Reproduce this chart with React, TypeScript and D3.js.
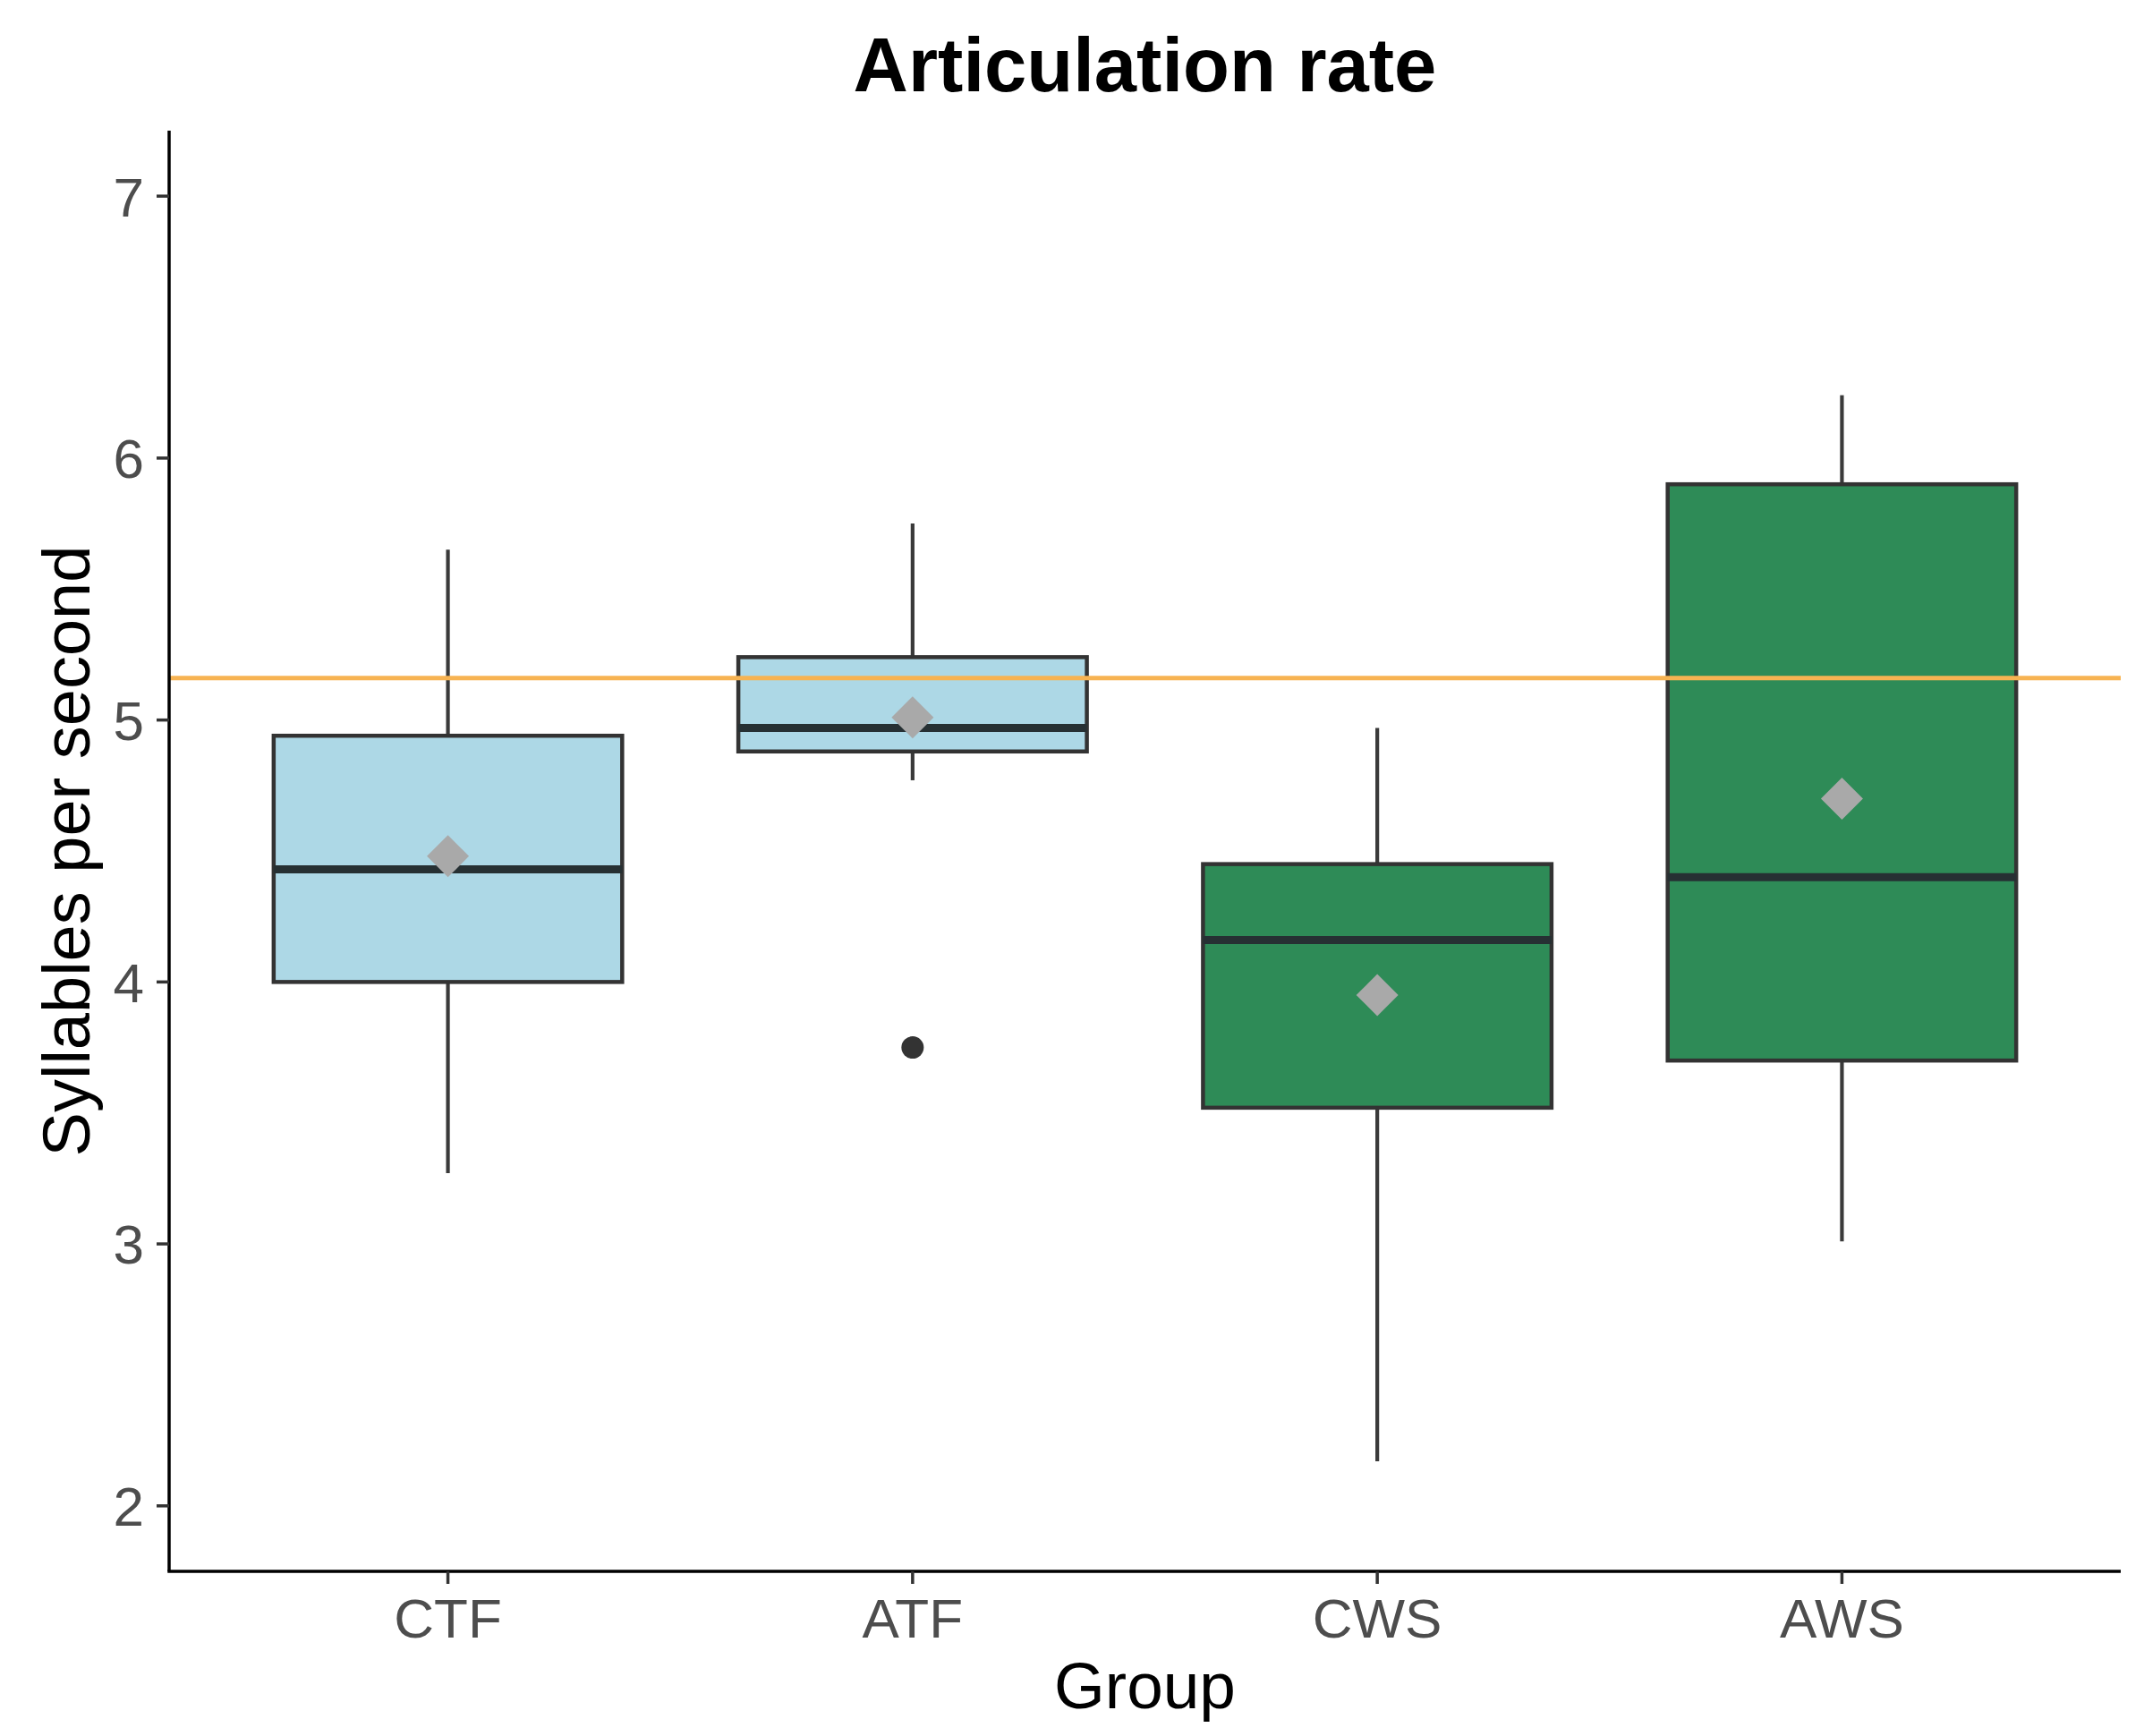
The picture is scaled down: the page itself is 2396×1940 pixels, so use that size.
import React from "react";
import * as d3 from "d3";

const groups = ["CTF", "ATF", "CWS", "AWS"];
const lowerWhisker = [3.27, 4.77, 2.17, 3.01];
const q1 = [4.0, 4.88, 3.52, 3.7];
const median = [4.43, 4.97, 4.16, 4.4];
const q3 = [4.94, 5.24, 4.45, 5.9];
const upperWhisker = [5.65, 5.75, 4.97, 6.24];
const means = [4.48, 5.01, 3.95, 4.7];
const outlierGroups = ["ATF"];
const outlierValues = [3.75];
const fills = ["#ADD8E6", "#ADD8E6", "#2E8B57", "#2E8B57"];
const yTicks = [2, 3, 4, 5, 6, 7];
const refLine = 5.16;

const W = 2396;
const H = 1940;
const left = 189;
const right = 2370;
const top = 146;
const bottom = 1756;
const font = "'Liberation Sans', Arial, Helvetica, sans-serif";

export default function App() {
  const x = d3.scalePoint<string>().domain(groups).range([left, right]).padding(0.6);
  const y = d3.scaleLinear().domain([1.75, 7.25]).range([bottom, top]);
  const bw = x.step() * 0.75;
  const dr = 23.5;
  const diamond = `M0,${-dr}L${dr},0L0,${dr}L${-dr},0Z`;
  const cx = (left + right) / 2;
  const cy = (top + bottom) / 2;

  return (
    <div style={{ position: "absolute", left: 0, top: 0, width: W, height: H, background: "#fff" }}>
      <svg width={W} height={H} style={{ display: "block" }} fontFamily={font}>
        <rect x={0} y={0} width={W} height={H} fill="#fff" />
        {groups.map((g, i) => {
          const xc = x(g)!;
          return (
            <g key={g}>
              <line x1={xc} x2={xc} y1={y(upperWhisker[i])} y2={y(q3[i])} stroke="#3a3a3a" strokeWidth={4.2} />
              <line x1={xc} x2={xc} y1={y(q1[i])} y2={y(lowerWhisker[i])} stroke="#3a3a3a" strokeWidth={4.2} />
              <rect
                x={xc - bw / 2}
                y={y(q3[i])}
                width={bw}
                height={y(q1[i]) - y(q3[i])}
                fill={fills[i]}
                stroke="#333"
                strokeWidth={4.5}
              />
              <line x1={xc - bw / 2} x2={xc + bw / 2} y1={y(median[i])} y2={y(median[i])} stroke="#263033" strokeWidth={9} />
            </g>
          );
        })}
        {outlierGroups.map((g, i) => (
          <circle key={"o" + i} cx={x(g)!} cy={y(outlierValues[i])} r={12.5} fill="#333" />
        ))}
        <line x1={left} x2={right} y1={y(refLine)} y2={y(refLine)} stroke="#F7B352" strokeWidth={5} />
        {groups.map((g, i) => (
          <path key={"m" + g} d={diamond} transform={`translate(${x(g)},${y(means[i])})`} fill="#A9A9A9" />
        ))}
        {/* axes */}
        <line x1={left} x2={left} y1={top} y2={bottom} stroke="#000" strokeWidth={3.5} />
        <line x1={left - 1.75} x2={right} y1={bottom} y2={bottom} stroke="#000" strokeWidth={3.5} />
        {yTicks.map((t) => (
          <g key={"yt" + t}>
            <line x1={left - 14} x2={left} y1={y(t)} y2={y(t)} stroke="#333" strokeWidth={3.5} />
            <text x={left - 28} y={y(t)} dy="0.36em" textAnchor="end" fontSize={62} fill="#4D4D4D">
              {t}
            </text>
          </g>
        ))}
        {groups.map((g) => (
          <g key={"xt" + g}>
            <line x1={x(g)!} x2={x(g)!} y1={bottom} y2={bottom + 14} stroke="#333" strokeWidth={3.5} />
            <text x={x(g)!} y={1830} textAnchor="middle" fontSize={62} fill="#4D4D4D">
              {g}
            </text>
          </g>
        ))}
        <text x={cx} y={1909} textAnchor="middle" fontSize={73} fill="#000">
          Group
        </text>
        <text transform={`translate(100,${cy}) rotate(-90)`} textAnchor="middle" fontSize={74} fill="#000">
          Syllables per second
        </text>
        <text x={cx} y={102} textAnchor="middle" fontSize={85} fontWeight="bold" fill="#000">
          Articulation rate
        </text>
      </svg>
    </div>
  );
}
